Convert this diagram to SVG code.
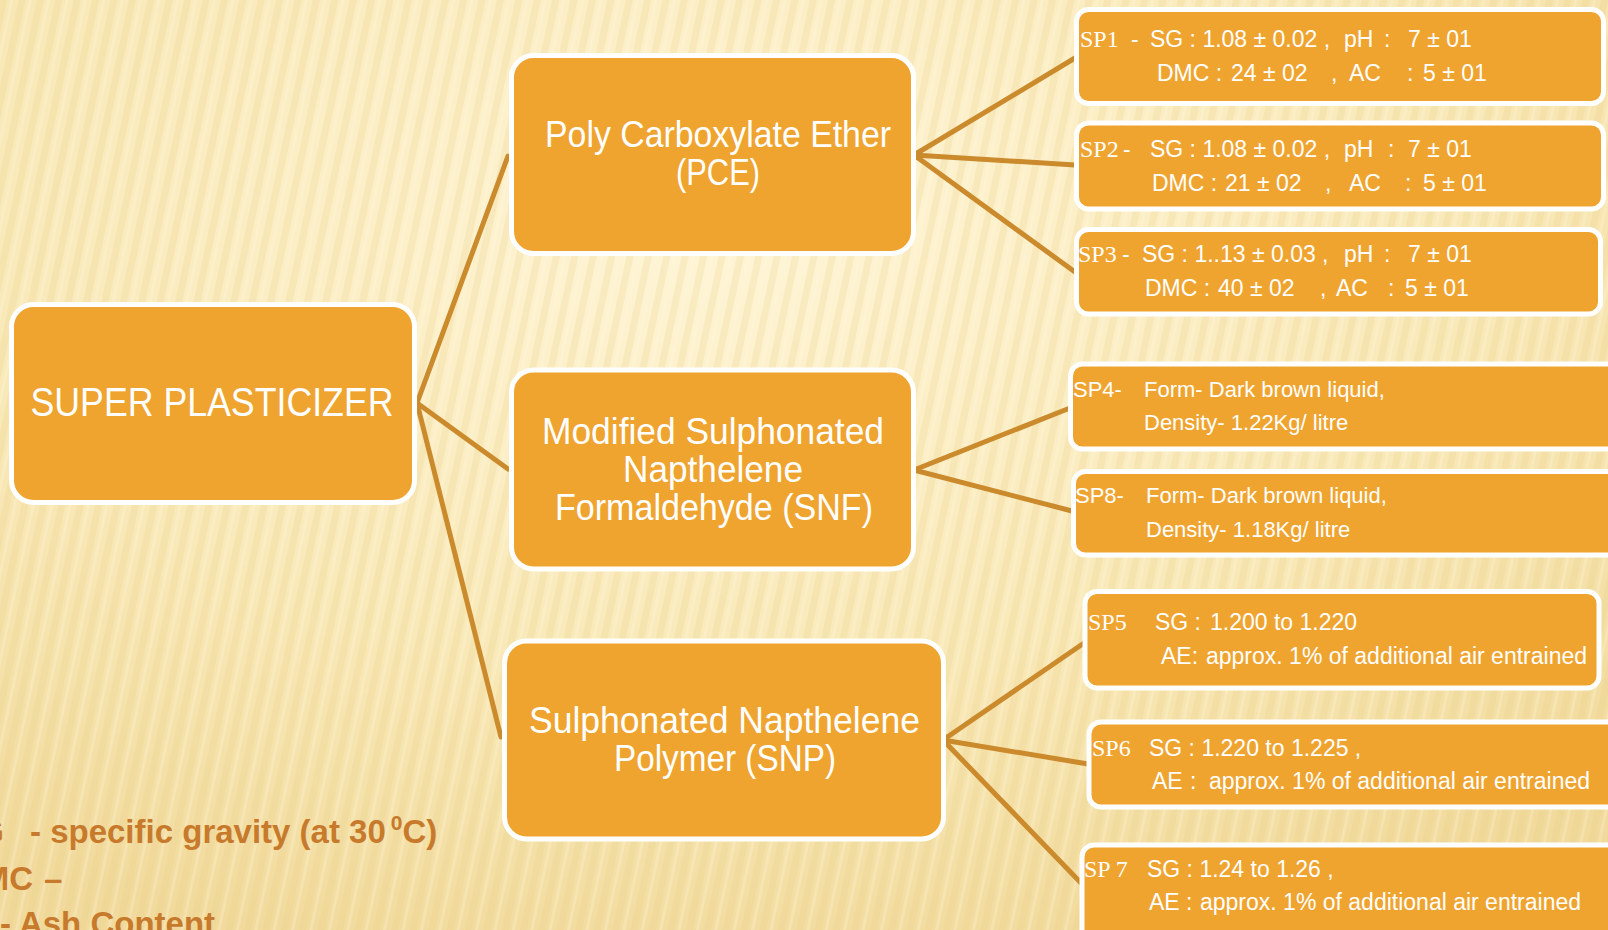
<svg xmlns="http://www.w3.org/2000/svg" width="1608" height="930" viewBox="0 0 1608 930">
<defs>
<radialGradient id="bgg" cx="0.45" cy="0.25" r="0.8">
<stop offset="0" stop-color="#FFF5D6"/>
<stop offset="0.6" stop-color="#F9E9B8"/>
<stop offset="1" stop-color="#F1DA9C"/>
</radialGradient>
<pattern id="stripes" width="18" height="40" patternUnits="userSpaceOnUse" patternTransform="rotate(12)">
<rect x="0" y="0" width="7" height="40" fill="#E6CB82" opacity="0.22"/>
<rect x="10" y="0" width="3" height="40" fill="#FFF8E0" opacity="0.25"/>
</pattern>
<style>
.box{fill:#EFA42F;stroke:#FFFFFF;stroke-width:5}
.main{font-family:"Liberation Sans",Arial,sans-serif;fill:#FFFFFF;text-anchor:middle}
.t{font-family:"Liberation Sans",Arial,sans-serif;fill:#FFFFFF;font-size:23px}
.s{font-family:"Liberation Serif","Times New Roman",serif;fill:#FFFFFF;font-size:24px}
.f{font-family:"Liberation Sans",Arial,sans-serif;fill:#FFFFFF;font-size:22px}
.leg{font-family:"Liberation Sans",Arial,sans-serif;fill:#C77A2C;font-weight:bold;font-size:33px}
.con{stroke:#CB8A2C;stroke-width:5;fill:none;stroke-linecap:round}
</style>
</defs>
<rect x="0" y="0" width="1608" height="930" fill="url(#bgg)"/>
<rect x="0" y="0" width="1608" height="930" fill="url(#stripes)"/>

<g id="connectors">
<line class="con" x1="417" y1="403" x2="508" y2="156"/>
<line class="con" x1="417" y1="403" x2="508" y2="469"/>
<line class="con" x1="417" y1="403" x2="501" y2="737"/>
<line class="con" x1="914" y1="155" x2="1075" y2="58"/>
<line class="con" x1="914" y1="155" x2="1075" y2="165"/>
<line class="con" x1="914" y1="155" x2="1075" y2="272"/>
<line class="con" x1="914" y1="470" x2="1070" y2="408"/>
<line class="con" x1="914" y1="470" x2="1072" y2="511"/>
<line class="con" x1="943" y1="740" x2="1084" y2="643"/>
<line class="con" x1="943" y1="740" x2="1088" y2="764"/>
<line class="con" x1="943" y1="740" x2="1082" y2="884"/>
</g>

<g id="super">
<rect class="box" x="11.5" y="304.5" width="403" height="198" rx="22"/>
<text class="main" x="212" y="416" font-size="40" textLength="363" lengthAdjust="spacingAndGlyphs">SUPER PLASTICIZER</text>
</g>

<g id="pce">
<rect class="box" x="511.5" y="55.5" width="402" height="198" rx="22"/>
<text class="main" x="718" y="147" font-size="36" textLength="346" lengthAdjust="spacingAndGlyphs">Poly Carboxylate Ether</text>
<text class="main" x="718" y="185" font-size="36" textLength="84" lengthAdjust="spacingAndGlyphs">(PCE)</text>
</g>

<g id="snf">
<rect class="box" x="511.5" y="370" width="402" height="199" rx="22"/>
<text class="main" x="713" y="444" font-size="36" textLength="342" lengthAdjust="spacingAndGlyphs">Modified Sulphonated</text>
<text class="main" x="713" y="482" font-size="36" textLength="180" lengthAdjust="spacingAndGlyphs">Napthelene</text>
<text class="main" x="714" y="520" font-size="36" textLength="318" lengthAdjust="spacingAndGlyphs">Formaldehyde (SNF)</text>
</g>

<g id="snp">
<rect class="box" x="504.5" y="641" width="439" height="198" rx="22"/>
<text class="main" x="724.5" y="733" font-size="36" textLength="391" lengthAdjust="spacingAndGlyphs">Sulphonated Napthelene</text>
<text class="main" x="725" y="771" font-size="36" textLength="222" lengthAdjust="spacingAndGlyphs">Polymer (SNP)</text>
</g>

<g id="sp1">
<rect class="box" x="1076.5" y="9.5" width="527" height="94" rx="12"/>
<text class="s" x="1080" y="47">SP1</text>
<text class="t" x="1131" y="47">-</text>
<text class="t" x="1150" y="47">SG : 1.08 ± 0.02 ,</text>
<text class="t" x="1344" y="47">pH</text>
<text class="t" x="1384" y="47">:</text>
<text class="t" x="1408" y="47">7 ± 01</text>
<text class="t" x="1157" y="81">DMC :</text>
<text class="t" x="1231" y="81">24 ± 02</text>
<text class="t" x="1331" y="81">,</text>
<text class="t" x="1349" y="81">AC</text>
<text class="t" x="1407" y="81">:</text>
<text class="t" x="1423" y="81">5 ± 01</text>
</g>

<g id="sp2">
<rect class="box" x="1076.5" y="123" width="527" height="86" rx="12"/>
<text class="s" x="1080" y="157">SP2</text>
<text class="t" x="1123" y="157">-</text>
<text class="t" x="1150" y="157">SG : 1.08 ± 0.02 ,</text>
<text class="t" x="1344" y="157">pH</text>
<text class="t" x="1388" y="157">:</text>
<text class="t" x="1408" y="157">7 ± 01</text>
<text class="t" x="1152" y="191">DMC :</text>
<text class="t" x="1225" y="191">21 ± 02</text>
<text class="t" x="1325" y="191">,</text>
<text class="t" x="1349" y="191">AC</text>
<text class="t" x="1405" y="191">:</text>
<text class="t" x="1423" y="191">5 ± 01</text>
</g>

<g id="sp3">
<rect class="box" x="1076.5" y="229.5" width="524" height="84.5" rx="12"/>
<text class="s" x="1078" y="262">SP3</text>
<text class="t" x="1122" y="262">-</text>
<text class="t" x="1142" y="262">SG : 1..13 ± 0.03 ,</text>
<text class="t" x="1344" y="262">pH</text>
<text class="t" x="1384" y="262">:</text>
<text class="t" x="1408" y="262">7 ± 01</text>
<text class="t" x="1145" y="296">DMC :</text>
<text class="t" x="1218" y="296">40 ± 02</text>
<text class="t" x="1320" y="296">,</text>
<text class="t" x="1336" y="296">AC</text>
<text class="t" x="1388" y="296">:</text>
<text class="t" x="1405" y="296">5 ± 01</text>
</g>

<g id="sp4">
<rect class="box" x="1070.5" y="364" width="560" height="85" rx="12"/>
<text class="f" x="1073" y="397">SP4-</text>
<text class="f" x="1144" y="397">Form- Dark brown liquid,</text>
<text class="f" x="1144" y="430">Density- 1.22Kg/ litre</text>
</g>

<g id="sp8">
<rect class="box" x="1073.5" y="471.5" width="560" height="83.5" rx="12"/>
<text class="f" x="1075" y="503">SP8-</text>
<text class="f" x="1146" y="503">Form- Dark brown liquid,</text>
<text class="f" x="1146" y="537">Density- 1.18Kg/ litre</text>
</g>

<g id="sp5">
<rect class="box" x="1085" y="591.5" width="514" height="96.5" rx="12"/>
<text class="s" x="1088" y="630">SP5</text>
<text class="t" x="1155" y="630">SG :</text>
<text class="t" x="1210" y="630">1.200 to 1.220</text>
<text class="t" x="1161" y="664">AE:</text>
<text class="t" x="1206" y="664">approx. 1% of additional air entrained</text>
</g>

<g id="sp6">
<rect class="box" x="1089" y="722" width="540" height="85" rx="12"/>
<text class="s" x="1092" y="756">SP6</text>
<text class="t" x="1149" y="756">SG : 1.220 to 1.225 ,</text>
<text class="t" x="1152" y="789">AE</text>
<text class="t" x="1190" y="789">:</text>
<text class="t" x="1209" y="789">approx. 1% of additional air entrained</text>
</g>

<g id="sp7">
<rect class="box" x="1082" y="845" width="540" height="110" rx="12"/>
<text class="s" x="1084" y="877">SP 7</text>
<text class="t" x="1147" y="877">SG : 1.24 to 1.26 ,</text>
<text class="t" x="1149" y="910">AE :</text>
<text class="t" x="1200" y="910">approx. 1% of additional air entrained</text>
</g>

<g id="legend">
<text class="leg" x="4" y="843" text-anchor="end">SG</text>
<text class="leg" x="30" y="843">- specific gravity (at 30<tspan font-size="21" dy="-13" dx="5">0</tspan><tspan dy="13">C)</tspan></text>
<text class="leg" x="33" y="890" text-anchor="end">DMC</text>
<text class="leg" x="44" y="890">–</text>
<text class="leg" x="0" y="935">- Ash Content</text>
</g>
</svg>
